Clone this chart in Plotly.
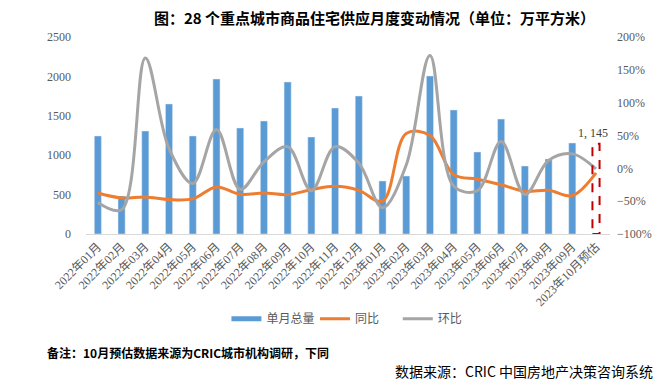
import plotly.graph_objects as go

categories = ["2022年01月", "2022年02月", "2022年03月", "2022年04月", "2022年05月", "2022年06月",
              "2022年07月", "2022年08月", "2022年09月", "2022年10月", "2022年11月", "2022年12月",
              "2023年01月", "2023年02月", "2023年03月", "2023年04月", "2023年05月", "2023年06月",
              "2023年07月", "2023年08月", "2023年09月", "2023年10月预估"]
monthly_total = [1244, 482, 1307, 1650, 1244, 1967, 1345, 1434, 1929, 1231, 1599, 1751,
                 673, 736, 2005, 1574, 1041, 1459, 863, 952, 1155, 1145]
yoy = [-37.5, -45, -43.6, -47.5, -46.5, -28.4, -39.6, -37.5, -40, -32.5, -27.4, -33.5,
       -50, 53, 50, -9.6, -16.5, -25, -35, -33.5, -41.6, -7]
mom = [-52, -63, 168, 30, -23, 59, -32, 10, 33, -34, 33, 8,
       -60, 5, 172, -27, -34, 41, -40, 12, 22, -1]

BLUE = "#5B9BD5"
ORANGE = "#ED7D31"
GRAY = "#A5A5A5"
RED = "#C00000"
TXT = "#595959"
FONT = "Liberation Serif, Noto Sans CJK SC, sans-serif"
CJK = "Noto Sans CJK SC, sans-serif"

bar_colors = [BLUE] * (len(categories) - 1) + ["rgba(255,255,255,0)"]
BAR_W = 0.3

fig = go.Figure()
fig.add_trace(go.Bar(x=categories, y=monthly_total, name="单月总量", marker_color=bar_colors,
                     width=BAR_W, yaxis="y", showlegend=False))
# legend entry for the bars, drawn as a short thick line like the original
fig.add_trace(go.Scatter(x=[None], y=[None], name="单月总量", mode="lines",
                         line=dict(color=BLUE, width=5), yaxis="y", legend="legend"))
fig.add_trace(go.Scatter(x=categories, y=yoy, name="同比", mode="lines",
                         line=dict(color=ORANGE, width=3, shape="spline", smoothing=1.0),
                         yaxis="y2", legend="legend2"))
fig.add_trace(go.Scatter(x=categories, y=mom, name="环比", mode="lines",
                         line=dict(color=GRAY, width=3, shape="spline", smoothing=1.0),
                         yaxis="y2", legend="legend3"))

last = len(categories) - 1
fig.add_shape(type="rect", xref="x", yref="y", x0=last - BAR_W / 2, x1=last + BAR_W / 2,
              y0=0, y1=monthly_total[last], line=dict(color=RED, width=2, dash="dash"),
              fillcolor="rgba(0,0,0,0)")
fig.add_annotation(x=categories[last], y=monthly_total[last], xref="x", yref="y",
                   text=f"{monthly_total[last]:,}".replace(",", ", "), showarrow=False,
                   yshift=11, xshift=-3, font=dict(family=FONT, size=12, color="#404040"))

fig.add_annotation(text="<b>图：28 个重点城市商品住宅供应月度变动情况（单位：万平方米）</b>",
                   xref="paper", yref="paper", x=0.55, y=1.10, yanchor="middle", showarrow=False,
                   font=dict(family=CJK, size=15, color="#000000"))
fig.add_annotation(text="<b>备注：10月预估数据来源为CRIC城市机构调研，下同</b>",
                   xref="paper", yref="paper", x=-0.078, y=-0.599, xanchor="left", yanchor="middle",
                   showarrow=False, font=dict(family=CJK, size=12, color="#000000"))
fig.add_annotation(text="数据来源：CRIC 中国房地产决策咨询系统",
                   xref="paper", yref="paper", x=1.086, y=-0.695, xanchor="right", yanchor="middle",
                   showarrow=False, font=dict(family=CJK, size=14, color="#000000"))

leg_common = dict(orientation="h", y=-0.43, yanchor="middle", xanchor="left",
                  font=dict(family=CJK, size=12, color=TXT), itemwidth=30,
                  bgcolor="rgba(0,0,0,0)")

fig.update_layout(
    width=664, height=389,
    margin=dict(l=86, r=52, t=37, b=155),
    paper_bgcolor="white", plot_bgcolor="white",
    showlegend=True,
    legend=dict(x=0.268, **leg_common),
    legend2=dict(x=0.437, **leg_common),
    legend3=dict(x=0.595, **leg_common),
    bargap=0.7,
    xaxis=dict(type="category", tickangle=-45, showgrid=False, showline=True,
               linecolor="#D9D9D9", linewidth=1, ticks="",
               tickfont=dict(family=FONT, size=12, color=TXT)),
    yaxis=dict(range=[0, 2500], dtick=500, showgrid=False, zeroline=False, ticks="",
               tickfont=dict(family=FONT, size=12, color=TXT), ticklabelstandoff=14),
    yaxis2=dict(range=[-100, 200], dtick=50, overlaying="y", side="right", showgrid=False,
                zeroline=False, ticks="", ticksuffix="%",
                tickfont=dict(family=FONT, size=12, color=TXT), ticklabelstandoff=6),
    hovermode=False,
)

fig.write_html("out.html", config={"displayModeBar": False},
               post_script="document.body.style.margin='0';")
